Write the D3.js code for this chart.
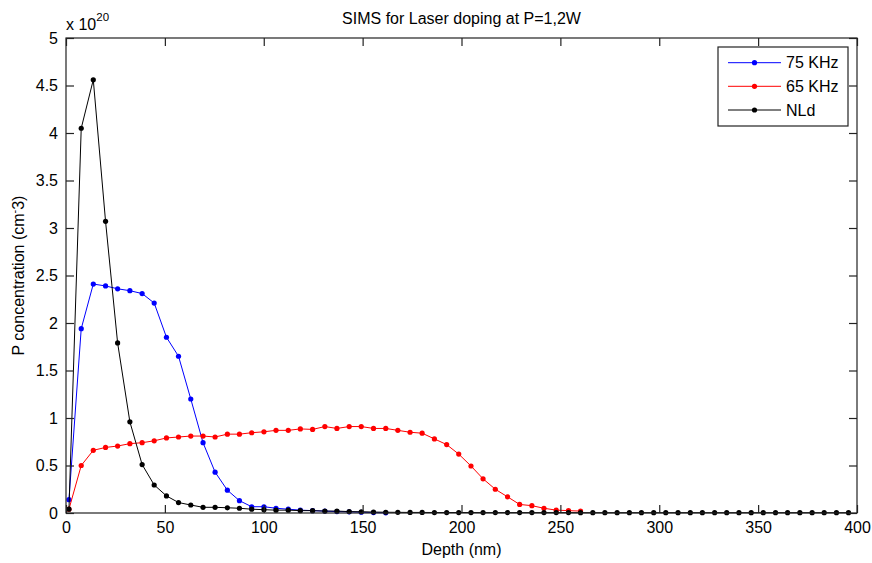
<!DOCTYPE html>
<html>
<head>
<meta charset="utf-8">
<script src="https://cdn.jsdelivr.net/npm/d3@7/dist/d3.min.js"></script>
<style>
  html, body { margin: 0; padding: 0; background: #fff; }
  svg { display: block; }
  text { font-family: "Liberation Sans", Arial, Helvetica, sans-serif; fill: #000; }
</style>
</head>
<body>
<svg id="chart" width="872" height="563"></svg>
<script>
// SIMS depth profiles of phosphorus, concentrations in units of 1e20 cm^-3
const depth = [
  1.5, 7.7, 13.8, 20.0, 26.1, 32.3, 38.5, 44.6, 50.8, 56.9,
  63.1, 69.3, 75.4, 81.6, 87.7, 93.9, 100.1, 106.2, 112.4, 118.5,
  124.7, 130.9, 137.0, 143.2, 149.3, 155.5, 161.7, 167.8, 174.0, 180.1,
  186.3, 192.5, 198.6, 204.8, 210.9, 217.1, 223.3, 229.4, 235.6, 241.7,
  247.9, 254.1, 260.2, 266.4, 272.5, 278.7, 284.9, 291.0, 297.2, 303.3,
  309.5, 315.7, 321.8, 328.0, 334.1, 340.3, 346.5, 352.6, 358.8, 364.9,
  371.1, 377.3, 383.4, 389.6, 395.7
];

const khz75 = [
  0.14, 1.94, 2.41, 2.39, 2.36, 2.34, 2.31, 2.21, 1.85, 1.65,
  1.20, 0.74, 0.43, 0.24, 0.13, 0.066, 0.066, 0.05, 0.04, 0.03,
  0.025, 0.02, 0.015, 0.012, 0.008, 0.004, 0.002
];

const khz65 = [
  0.04, 0.50, 0.66, 0.69, 0.705, 0.73, 0.74, 0.76, 0.79, 0.80,
  0.81, 0.81, 0.80, 0.83, 0.83, 0.845, 0.855, 0.87, 0.87, 0.885,
  0.88, 0.91, 0.89, 0.91, 0.91, 0.89, 0.89, 0.87, 0.85, 0.84,
  0.78, 0.72, 0.62, 0.495, 0.36, 0.25, 0.17, 0.09, 0.077, 0.05,
  0.03, 0.025, 0.02
];

const nld = [
  0.04, 4.05, 4.56, 3.07, 1.79, 0.96, 0.51, 0.295, 0.18, 0.11,
  0.084, 0.06, 0.06, 0.055, 0.05, 0.04, 0.035, 0.03, 0.03, 0.025,
  0.025, 0.02, 0.02, 0.015, 0.013, 0.01, 0.008, 0.007, 0.006, 0.006,
  0.005, 0.005, 0.005, 0.005, 0.004, 0.004, 0.004, 0.004, 0.004, 0.004,
  0.004, 0.004, 0.003, 0.003, 0.003, 0.003, 0.003, 0.003, 0.003, 0.003,
  0.003, 0.003, 0.003, 0.003, 0.003, 0.003, 0.003, 0.003, 0.003, 0.003,
  0.003, 0.003, 0.003, 0.003, 0.003
];

const seriesNames = ["75 KHz", "65 KHz", "NLd"];
const seriesColors = ["#0000ff", "#ff0000", "#000000"];
const seriesValues = [khz75, khz65, nld];

const xTicks = [0, 50, 100, 150, 200, 250, 300, 350, 400];
const yTicks = [0, 0.5, 1, 1.5, 2, 2.5, 3, 3.5, 4, 4.5, 5];

const titleText = "SIMS for Laser doping at P=1,2W";
const xLabel = "Depth (nm)";

// ---- layout ----
const svg = d3.select("#chart");
const plot = { left: 66, right: 857, top: 38, bottom: 513 };
const tickLen = 8;
const axisColor = "#222";
const fontSize = 16;

const x = d3.scaleLinear().domain([0, 400]).range([plot.left, plot.right]);
const y = d3.scaleLinear().domain([0, 5]).range([plot.bottom, plot.top]);

// title
svg.append("text")
  .attr("x", (plot.left + plot.right) / 2)
  .attr("y", 24)
  .attr("text-anchor", "middle")
  .style("font-size", fontSize + "px")
  .text(titleText);

// exponent label
const expo = svg.append("text")
  .attr("x", plot.left)
  .attr("y", 30)
  .style("font-size", fontSize + "px");
expo.append("tspan").text("x 10");
expo.append("tspan").attr("dy", -9).style("font-size", "11.5px").text("20");

// series
const line = d3.line().x(d => x(d[0])).y(d => y(d[1]));
seriesValues.forEach((vals, i) => {
  const pts = vals.map((v, k) => [depth[k], v]);
  const g = svg.append("g");
  g.append("path")
    .attr("d", line(pts))
    .attr("fill", "none")
    .attr("stroke", seriesColors[i])
    .attr("stroke-width", 1);
  g.selectAll("circle").data(pts).enter().append("circle")
    .attr("cx", d => x(d[0]))
    .attr("cy", d => y(d[1]))
    .attr("r", 2.6)
    .attr("fill", seriesColors[i]);
});

// axes box
svg.append("rect")
  .attr("x", plot.left).attr("y", plot.top)
  .attr("width", plot.right - plot.left).attr("height", plot.bottom - plot.top)
  .attr("fill", "none").attr("stroke", axisColor).attr("stroke-width", 1.2);

// bottom axis (ticks inward) and mirrored ticks on top
const xAxis = d3.axisBottom(x).tickValues(xTicks).tickSize(-tickLen).tickPadding(tickLen + 4)
  .tickFormat(d3.format("d"));
const gx = svg.append("g").attr("transform", `translate(0,${plot.bottom})`).call(xAxis);
const gxTop = svg.append("g").attr("transform", `translate(0,${plot.top})`)
  .call(d3.axisTop(x).tickValues(xTicks).tickSize(-tickLen).tickFormat(""));

const yAxis = d3.axisLeft(y).tickValues(yTicks).tickSize(-tickLen).tickPadding(tickLen + 0)
  .tickFormat(d => String(d));
const gy = svg.append("g").attr("transform", `translate(${plot.left},0)`).call(yAxis);
const gyRight = svg.append("g").attr("transform", `translate(${plot.right},0)`)
  .call(d3.axisRight(y).tickValues(yTicks).tickSize(-tickLen).tickFormat(""));

[gx, gxTop, gy, gyRight].forEach(g => {
  g.select(".domain").remove();
  g.selectAll(".tick line").attr("stroke", axisColor).attr("stroke-width", 1.2);
  g.selectAll("text").style("font-size", fontSize + "px")
    .style("font-family", "'Liberation Sans', Arial, sans-serif").attr("fill", "#000");
});
gx.selectAll(".tick text").attr("dy", "0.71em").attr("y", 9);

// axis titles
svg.append("text")
  .attr("x", (plot.left + plot.right) / 2)
  .attr("y", 555)
  .attr("text-anchor", "middle")
  .style("font-size", fontSize + "px")
  .text(xLabel);

const yl = svg.append("text")
  .attr("transform", `translate(24,${(plot.top + plot.bottom) / 2}) rotate(-90)`)
  .attr("text-anchor", "middle")
  .style("font-size", fontSize + "px");
yl.append("tspan").text("P concentration (cm");
yl.append("tspan").attr("dy", -6).style("font-size", "11px").text("-");
yl.append("tspan").attr("dy", 6).text("3)");

// legend
const legend = svg.append("g");
legend.append("rect")
  .attr("x", 718).attr("y", 47).attr("width", 130).attr("height", 79)
  .attr("fill", "#fff").attr("stroke", axisColor).attr("stroke-width", 1.2);
const legendY = [62.7, 86.3, 110];
seriesNames.forEach((name, i) => {
  const ly = legendY[i];
  legend.append("line")
    .attr("x1", 728).attr("x2", 781).attr("y1", ly).attr("y2", ly)
    .attr("stroke", seriesColors[i]).attr("stroke-width", 1);
  legend.append("circle").attr("cx", 754.5).attr("cy", ly).attr("r", 2.6)
    .attr("fill", seriesColors[i]);
  legend.append("text")
    .attr("x", 786).attr("y", ly).attr("dy", "0.35em")
    .style("font-size", fontSize + "px")
    .text(name);
});
</script>
</body>
</html>
